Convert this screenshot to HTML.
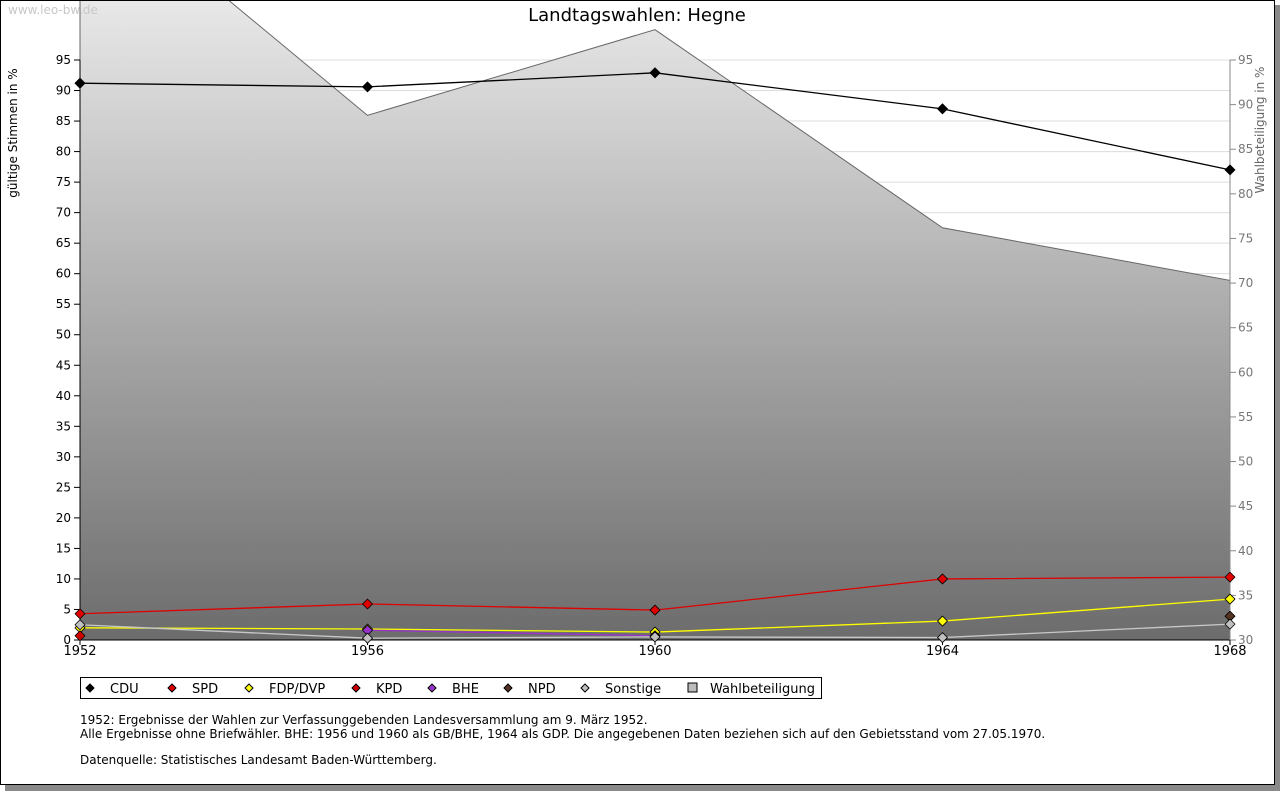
<!DOCTYPE html>
<html><head><meta charset="utf-8"><style>
body{margin:0;background:#fff;width:1280px;height:791px;overflow:hidden;font-family:"DejaVu Sans","Liberation Sans",sans-serif}
</style></head><body>
<svg width="1280" height="791" xmlns="http://www.w3.org/2000/svg" style="font-family:'DejaVu Sans','Liberation Sans',sans-serif">
<defs>
<linearGradient id="g" gradientUnits="userSpaceOnUse" x1="0" y1="0" x2="0" y2="640"><stop offset="0" stop-color="#e8e8e8"/><stop offset="1" stop-color="#6c6c6c"/></linearGradient>
<clipPath id="cl"><rect x="0" y="1" width="1275" height="639"/></clipPath>
</defs>
<rect x="5" y="5" width="1275" height="786" fill="#8a8a8a"/>
<rect x="0.5" y="0.5" width="1274" height="784" fill="#fff" stroke="#000"/>
<g id="grid"></g>
<g id="area" clip-path="url(#cl)"></g>
<text x="8" y="14" font-size="12" fill="#c8c8c8">www.leo-bw.de</text>
<g id="axes"></g>
<g id="lines"></g>
<text x="637" y="21" font-size="18" text-anchor="middle">Landtagswahlen: Hegne</text>
<text transform="translate(17,133) rotate(-90)" font-size="12" text-anchor="middle">gültige Stimmen in %</text>
<text transform="translate(1264,130) rotate(-90)" font-size="12" fill="#666" text-anchor="middle">Wahlbeteiligung in %</text>
<g id="legend"></g>
<g font-size="12">
<text x="80" y="724">1952: Ergebnisse der Wahlen zur Verfassunggebenden Landesversammlung am 9. März 1952.</text>
<text x="80" y="738">Alle Ergebnisse ohne Briefwähler. BHE: 1956 und 1960 als GB/BHE, 1964 als GDP. Die angegebenen Daten beziehen sich auf den Gebietsstand vom 27.05.1970.</text>
<text x="80" y="764">Datenquelle: Statistisches Landesamt Baden-Württemberg.</text>
</g>
</svg>
<script>
const years=[1952,1956,1960,1964,1968];
const leftTicks=[0,5,10,15,20,25,30,35,40,45,50,55,60,65,70,75,80,85,90,95];
const rightTicks=[30,35,40,45,50,55,60,65,70,75,80,85,90,95];
const turnout=[115.5,88.8,98.4,76.2,70.3];
const cdu=[91.2,90.6,92.9,87.0,77.0];
const spd=[4.3,5.9,4.9,10.0,10.3];
const fdp=[2.0,1.8,1.3,3.1,6.7];
const kpd=[0.7,null,null,null,null];
const bhe=[null,1.6,0.7,null,null];
const npd=[null,null,null,null,3.9];
const sonst=[2.5,0.3,0.5,0.4,2.6];
const NS="http://www.w3.org/2000/svg";
const X=i=>80+i*(1150/(years.length-1));
const Y=v=>640-v*(580/95);
const Y2=v=>640-(v-30)*(580/65);
function mk(t,a,p){const e=document.createElementNS(NS,t);for(const k in a)e.setAttribute(k,a[k]);document.getElementById(p).appendChild(e);return e;}
leftTicks.forEach(v=>{
 const l=mk('line',{x1:80,x2:1230,y1:Y(v),y2:Y(v),stroke:'#dcdcdc'},'grid');
 
 
 mk('line',{x1:74,x2:80,y1:Y(v),y2:Y(v),stroke:'#000'},'axes');
 const t=mk('text',{x:71,y:Y(v)+4,'font-size':12,'text-anchor':'end'},'axes');t.textContent=v;
 
 
});
rightTicks.forEach(v=>{
 mk('line',{x1:1230,x2:1236,y1:Y2(v),y2:Y2(v),stroke:'#888'},'axes');
 const t=mk('text',{x:1238,y:Y2(v)+4,'font-size':12,fill:'#777'},'axes');t.textContent=v;
 
 
});
let d='M'+X(0)+',640';turnout.forEach((v,i)=>d+=' L'+X(i)+','+Y2(v));d+=' L'+X(4)+',640Z';
const ar=mk('path',{d:d,fill:'url(#g)',stroke:'#666'},'area');


mk('line',{x1:80,x2:80,y1:60,y2:640,stroke:'#000'},'axes');
mk('line',{x1:80,x2:1230,y1:640,y2:640,stroke:'#000'},'axes');
mk('line',{x1:1230,x2:1230,y1:60,y2:640,stroke:'#888'},'axes');
years.forEach((y,i)=>{mk('line',{x1:X(i),x2:X(i),y1:640,y2:645,stroke:'#000'},'axes');
 const t=mk('text',{x:X(i),y:655,'font-size':13,'text-anchor':'middle'},'axes');t.textContent=y;
 
 });
const series=[['cdu',cdu,'#000','#000'],['spd',spd,'#e00000','#e00000'],['fdp',fdp,'#ffff00','#ffff00'],['kpd',kpd,'#c00000','#d00000'],['bhe',bhe,'#9933cc','#9933cc'],['npd',npd,'#553322','#553322'],['sonstige',sonst,'#c8c8c8','#c0c0c0']];
series.forEach(([n,arr,lc,fc])=>{
 let p='';arr.forEach((v,i)=>{if(v!=null)p+=(p?' L':'M')+X(i)+','+Y(v);});
 const l=mk('path',{d:p,fill:'none',stroke:lc,'stroke-width':1.3},'lines');
 
 
 arr.forEach((v,i)=>{if(v==null)return;const x=X(i),y=Y(v);
  const m=mk('path',{d:`M${x-5},${y} L${x},${y-5} L${x+5},${y} L${x},${y+5}Z`,fill:fc,stroke:'#000','stroke-width':0.8,'stroke-linejoin':'round'},'lines');
  
  });
});
const leg=[['CDU','#000',90],['SPD','#e00000',172],['FDP/DVP','#ffff00',249],['KPD','#d00000',356],['BHE','#9933cc',432],['NPD','#553322',508],['Sonstige','#c0c0c0',585]];
const lb=mk('rect',{x:80.5,y:677.5,width:741,height:21,fill:'#fff',stroke:'#000'},'legend');


leg.forEach(([t,c,x])=>{
 const g=mk('g',{},'legend');
 
 
 const m=document.createElementNS(NS,'path');m.setAttribute('d',`M${x-4},688 L${x},684 L${x+4},688 L${x},692Z`);m.setAttribute('fill',c);m.setAttribute('stroke','#000');g.appendChild(m);
 const tx=document.createElementNS(NS,'text');tx.setAttribute('x',x+20);tx.setAttribute('y',693);tx.setAttribute('font-size',13);tx.textContent=t;g.appendChild(tx);
});
const g=mk('g',{},'legend');


const r=document.createElementNS(NS,'rect');r.setAttribute('x',688);r.setAttribute('y',683);r.setAttribute('width',9);r.setAttribute('height',9);r.setAttribute('fill','#bbb');r.setAttribute('stroke','#000');g.appendChild(r);
const tx=document.createElementNS(NS,'text');tx.setAttribute('x',710);tx.setAttribute('y',693);tx.setAttribute('font-size',13);tx.textContent='Wahlbeteiligung';g.appendChild(tx);
</script>
</body></html>
